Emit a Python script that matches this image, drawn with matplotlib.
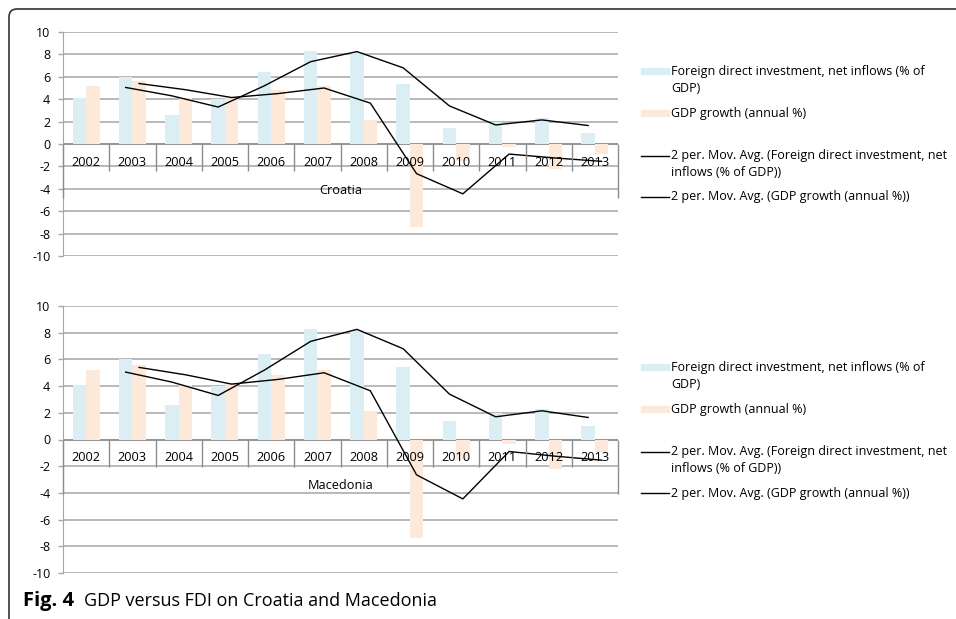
import matplotlib
matplotlib.use("Agg")
import matplotlib.pyplot as plt
import numpy as np
import pandas as pd
from matplotlib.patches import FancyBboxPatch, Rectangle
from matplotlib.lines import Line2D

years = [str(y) for y in range(2002, 2014)]
# the figure shows the same series in both panels
fdi = [4.1, 6.0, 2.6, 4.0, 6.4, 8.3, 8.2, 5.4, 1.4, 2.0, 2.3, 1.0]
gdp = [5.2, 5.6, 4.1, 4.2, 4.8, 5.2, 2.1, -7.4, -1.5, -0.3, -2.2, -0.9]
countries = ["Croatia", "Macedonia"]
y_ticks = list(range(-10, 11, 2))

legend_labels = [
    "Foreign direct investment, net inflows (% of\nGDP)",
    "GDP growth (annual %)",
    "2 per. Mov. Avg. (Foreign direct investment, net\ninflows (% of GDP))",
    "2 per. Mov. Avg. (GDP growth (annual %))",
]
caption_bold = "Fig. 4"
caption = "GDP versus FDI on Croatia and Macedonia"

BLUE = "#daeef3"
PEACH = "#fde9d9"
GRID = "#a6a6a6"
EDGE = "#8c8c8c"

W, H = 956, 619
plt.rcParams["font.family"] = ["Open Sans", "DejaVu Sans"]
plt.rcParams["axes.unicode_minus"] = False

fig = plt.figure(figsize=(W / 100, H / 100), dpi=100)


def fx(x):
    return x / W


def fy(y):
    return 1 - y / H


def panel(top, bottom, country, leg_top):
    ax = fig.add_axes([fx(63), fy(bottom), fx(618) - fx(63), fy(top) - fy(bottom)])
    x = np.arange(len(years))
    off, w = 0.145, 0.29
    ax.bar(x - off, fdi, w, color=BLUE, zorder=2)
    ax.bar(x + off, gdp, w, color=PEACH, zorder=2)

    ma_fdi = pd.Series(fdi).rolling(2).mean()
    ma_gdp = pd.Series(gdp).rolling(2).mean()
    ax.plot(x[1:] - off, ma_fdi[1:], color="black", lw=1, zorder=3)
    ax.plot(x[1:] + off, ma_gdp[1:], color="black", lw=1, zorder=3)

    ax.set_xlim(-0.5, len(years) - 0.5)
    ax.set_ylim(-10, 10)
    ax.set_yticks(y_ticks)
    ax.set_xticks([])
    ax.yaxis.grid(True, color=GRID, lw=1.1)
    ax.set_axisbelow(True)
    for s in ["top", "right", "bottom"]:
        ax.spines[s].set_visible(False)
    ax.spines["left"].set_color(GRID)
    ax.tick_params(axis="y", length=3.6, width=1, color=GRID, labelsize=9, pad=5.5)

    # multi-level category axis drawn as a small table below zero
    unit = 20 / (bottom - top)
    row = 27 * unit
    ax.vlines(np.arange(len(years) + 1) - 0.5, -row, 0, color=EDGE, lw=1, clip_on=False, zorder=4)
    ax.vlines([-0.5, len(years) - 0.5], -2 * row, -row, color=EDGE, lw=1, clip_on=False, zorder=4)
    ax.axhline(0, color=EDGE, lw=1.1, zorder=1)
    for i, yr in enumerate(years):
        ax.text(i, -18 * unit, yr, ha="center", va="center", fontsize=9.2, zorder=5)
    ax.text((len(years) - 1) / 2, -(27 + 19) * unit, country, ha="center", va="center", fontsize=9.2)

    # legend
    ys = [leg_top, leg_top + 42, leg_top + 85, leg_top + 126]
    for k, (lab, yc) in enumerate(zip(legend_labels, ys)):
        if k < 2:
            fig.patches.append(Rectangle((fx(641), fy(yc + 3)), fx(669) - fx(641), 6 / H,
                                         color=[BLUE, PEACH][k], transform=fig.transFigure))
        else:
            fig.lines.append(Line2D([fx(641), fx(669)], [fy(yc), fy(yc)], color="black", lw=1,
                                    transform=fig.transFigure))
        for j, line in enumerate(lab.split("\n")):
            fig.text(fx(671), fy(yc + 17 * j), line, ha="left", va="center", fontsize=9)
    return ax


panel(32, 256, countries[0], 71)
panel(306, 573, countries[1], 367)

# outer frame, only the top-left corner is visible
frame = FancyBboxPatch((0.09, -1.0), 11.0, 7.1, boxstyle="round,pad=0,rounding_size=0.08",
                       transform=fig.dpi_scale_trans, fill=False, ec="#333333", lw=1.2)
fig.patches.append(frame)

fig.text(fx(23), fy(606), caption_bold, ha="left", va="baseline", fontsize=14.5, fontweight="bold")
fig.text(fx(84), fy(606), caption, ha="left", va="baseline", fontsize=13)

fig.savefig("out.png", dpi=100)
